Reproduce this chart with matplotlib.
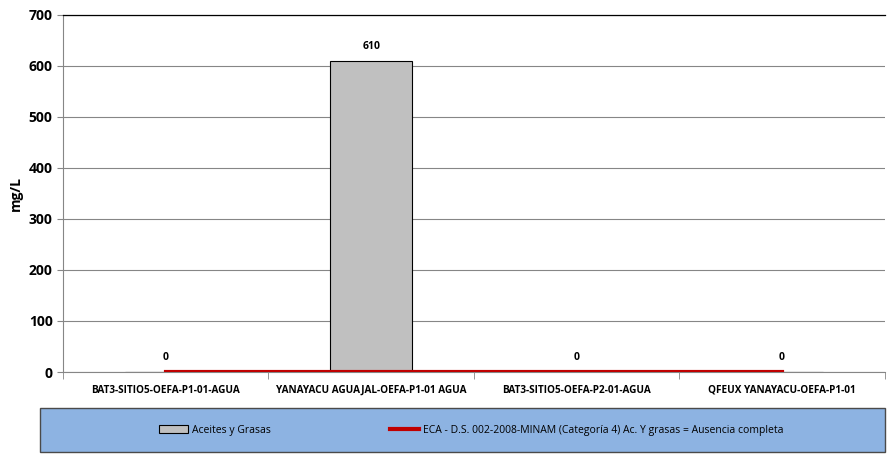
import matplotlib.pyplot as plt
from matplotlib.patches import Rectangle
from matplotlib.lines import Line2D
import numpy as np

plt.rcParams['font.family'] = ['Liberation Sans Narrow', 'Open Sans', 'DejaVu Sans']

# datos
estaciones = ["BAT3-SITIO5-OEFA-P1-01-AGUA", "YANAYACU AGUAJAL-OEFA-P1-01 AGUA",
              "BAT3-SITIO5-OEFA-P2-01-AGUA", "QFEUX YANAYACU-OEFA-P1-01"]
aceites = [0, 610, 0, 0]
eca = [0, 0, 0, 0]
y_ticks = [0, 100, 200, 300, 400, 500, 600, 700]

fig = plt.figure(figsize=(8.89, 4.65), dpi=100)
ax = fig.add_axes([0.071, 0.2, 0.924, 0.768])

x = np.arange(len(estaciones))
ax.bar(x, aceites, width=0.4, color="#C0C0C0", edgecolor="black", linewidth=0.8, zorder=3)
ax.plot(x, eca, color="#C00000", linewidth=3, zorder=4)

for xi, v in zip(x, aceites):
    ax.text(xi, v + 18, str(v), ha="center", va="bottom", fontsize=7.5, fontweight="bold")

ax.set_xlim(-0.5, len(estaciones) - 0.5)
ax.set_ylim(0, 700)
ax.set_yticks(y_ticks)
ax.set_yticklabels([str(t) for t in y_ticks], fontsize=10, fontweight="bold")
ax.set_xticks(x)
ax.set_xticklabels(estaciones, fontsize=7.2, fontweight="bold")
ax.tick_params(axis="x", length=0, pad=9)
ax.set_xticks(np.arange(-0.5, len(estaciones), 1), minor=True)
ax.tick_params(axis="x", which="minor", length=5, color="#868686")
ax.tick_params(axis="y", length=4, color="#868686")
ax.set_ylabel("mg/L", fontsize=10, fontweight="bold", labelpad=4)

ax.grid(axis="y", color="#868686", linewidth=0.8, zorder=0)
ax.spines["right"].set_visible(False)
ax.spines["top"].set_color("black")
ax.spines["top"].set_linewidth(0.9)
ax.spines["left"].set_color("#868686")
ax.spines["bottom"].set_color("#868686")

# leyenda
fig.patches.append(Rectangle((0.045, 0.028), 0.95, 0.095, transform=fig.transFigure,
                             facecolor="#8DB3E2", edgecolor="#4A4A4A", linewidth=1))
handles = [Rectangle((0, 0), 1, 1, facecolor="#C0C0C0", edgecolor="black", linewidth=0.8),
           Line2D([0], [0], color="#C00000", linewidth=3)]
labels = ["Aceites y Grasas",
          "ECA - D.S. 002-2008-MINAM (Categoría 4) Ac. Y grasas = Ausencia completa"]
fig.legend(handles, labels, loc="center", bbox_to_anchor=(0.53, 0.075), ncol=2,
           frameon=False, fontsize=7.5, columnspacing=11.5, handlelength=2.8,
           handletextpad=0.3)

fig.savefig("out.png", dpi=100)
